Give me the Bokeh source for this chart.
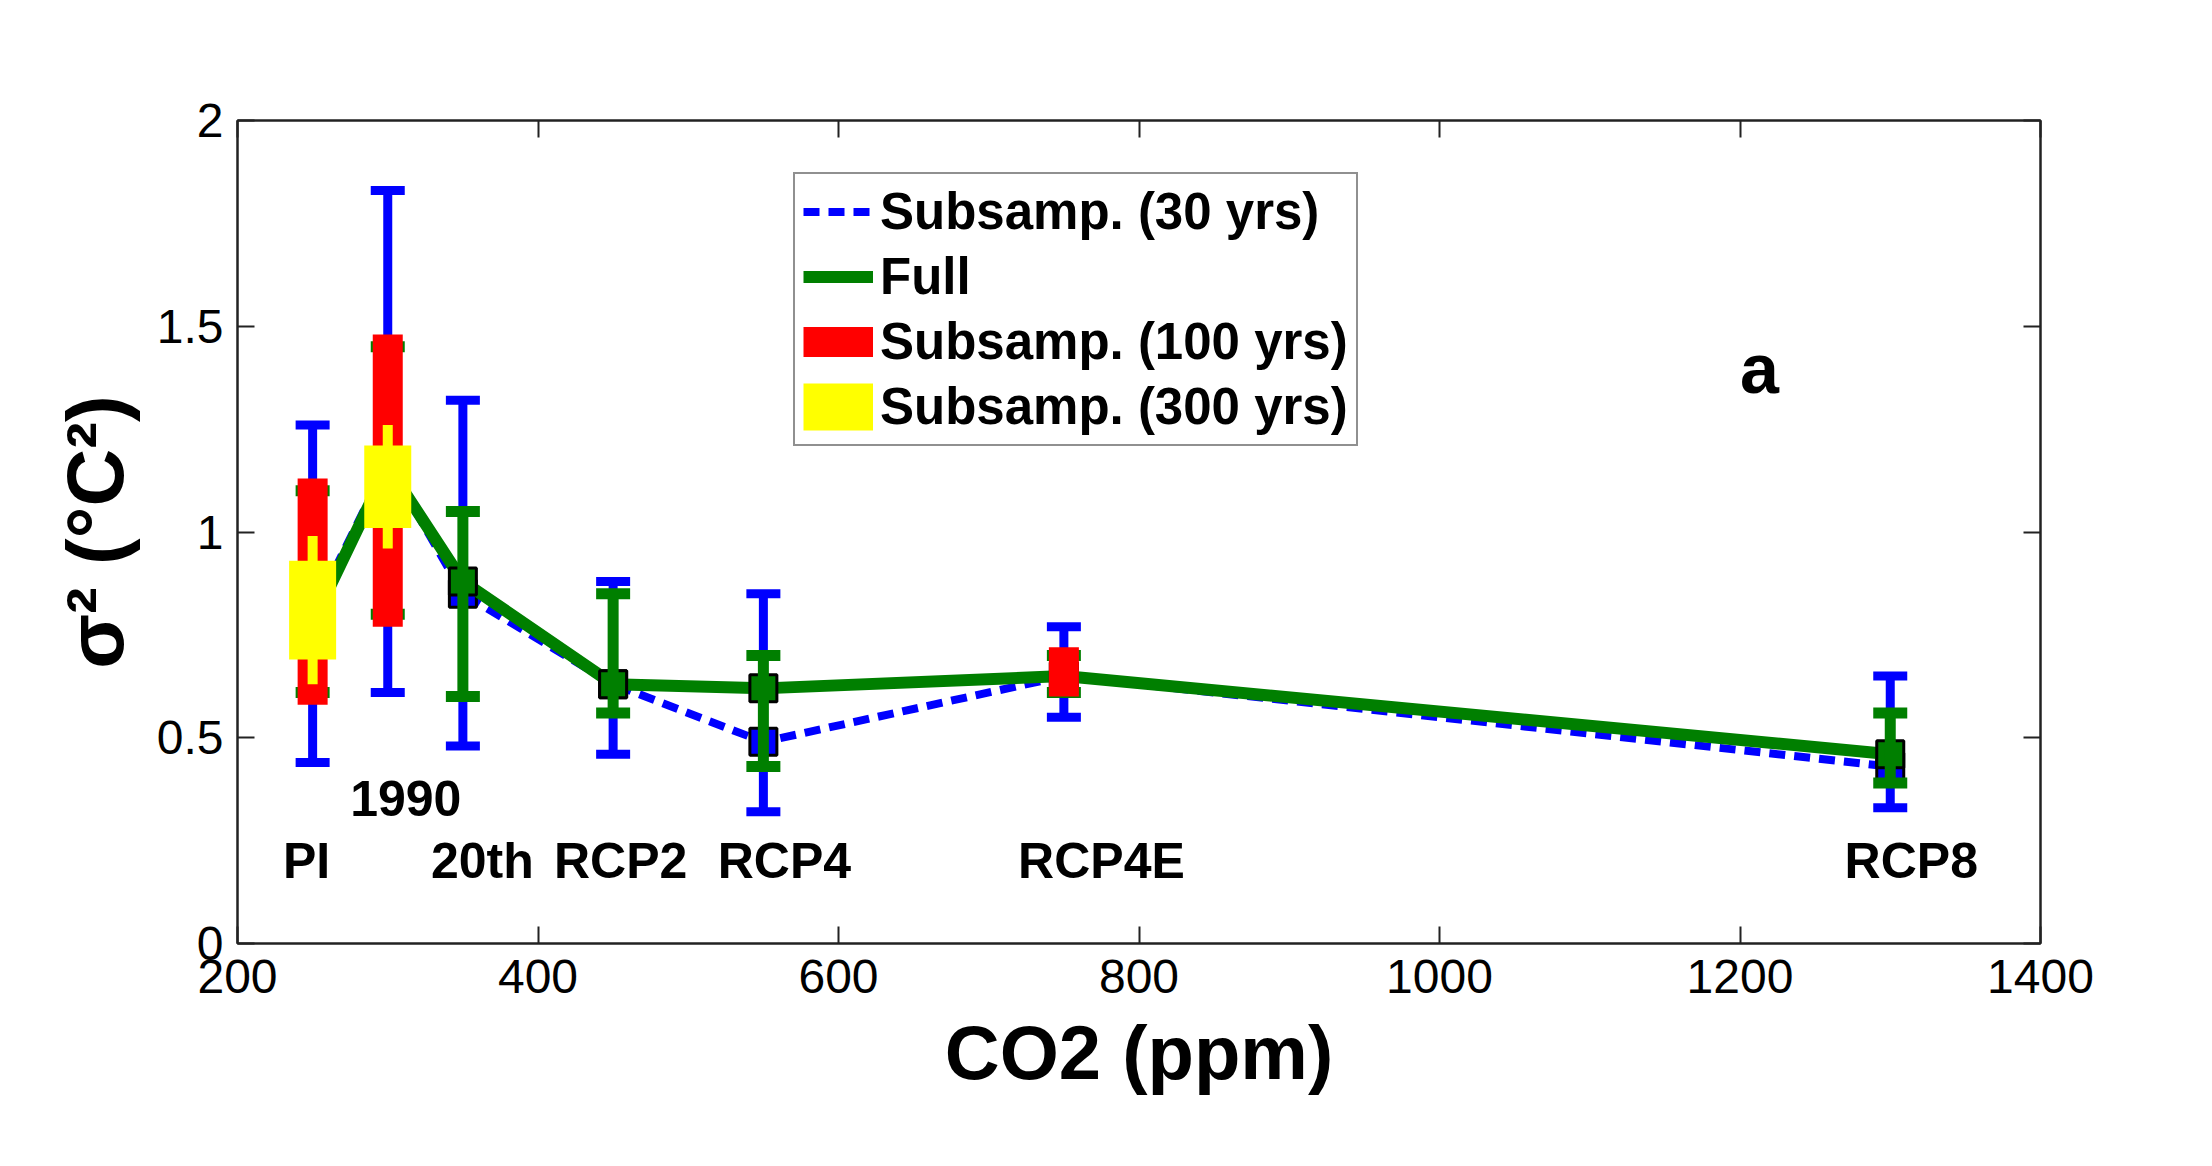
from bokeh.plotting import figure
from bokeh.models import (LinearAxis, FixedTicker, Legend, LegendItem, Range1d, Label)
from bokeh.embed import file_html
from bokeh.resources import INLINE
from bokeh.core.properties import value

# ---------------- data ----------------
co2 = [250, 300, 350, 450, 550, 750, 1300]
scenarios = ["PI", "1990", "20th", "RCP2", "RCP4", "RCP4E", "RCP8"]

# Subsampled, 30 yrs (blue dashed)
sub30_mean = [0.80, 1.17, 0.85, 0.63, 0.49, 0.65, 0.43]
sub30_lo = [0.44, 0.61, 0.48, 0.46, 0.32, 0.55, 0.33]
sub30_hi = [1.26, 1.83, 1.32, 0.88, 0.85, 0.77, 0.65]

# Full (green)
full_mean = [0.78, 1.16, 0.88, 0.63, 0.62, 0.65, 0.46]
full_lo = [0.61, 0.80, 0.60, 0.56, 0.43, 0.61, 0.39]
full_hi = [1.10, 1.45, 1.05, 0.85, 0.70, 0.70, 0.56]

# Subsampled, 100 yrs (red)
sub100_co2 = [250, 300, 750]
sub100_lo = [0.58, 0.77, 0.60]
sub100_hi = [1.13, 1.48, 0.72]

# Subsampled, 300 yrs (yellow)
sub300_co2 = [250, 300]
sub300_lo = [0.63, 0.96]
sub300_hi = [0.99, 1.26]
sub300_inner_lo = [0.69, 1.01]
sub300_inner_hi = [0.93, 1.21]

x_ticks = [200, 400, 600, 800, 1000, 1200, 1400]
y_ticks = [0, 0.5, 1, 1.5, 2]
y_tick_labels = ["0", "0.5", "1", "1.5", "2"]

# scenario annotation placement
label_x = [246, 312, 363, 455, 564, 775, 1314]
label_y = [0.20, 0.352, 0.20, 0.20, 0.20, 0.20, 0.20]

# ---------------- styles ----------------
FONT = "Liberation Sans"
BLUE = "#0000ff"
GREEN = "#007f00"
RED = "#ff0000"
YELLOW = "#ffff00"

p = figure(frame_width=1803, frame_height=823,
           x_range=Range1d(200, 1400), y_range=Range1d(0, 2),
           output_backend="svg", toolbar_location=None,
           min_border_left=237, min_border_right=164,
           min_border_top=120, min_border_bottom=215,
           background_fill_color="white", border_fill_color="white")
p.grid.visible = False
p.outline_line_color = "#222222"
p.outline_line_width = 2

def style_axis(ax, ticks, show_labels=True):
    ax.ticker = FixedTicker(ticks=ticks)
    ax.major_tick_in = 17
    ax.major_tick_out = 0
    ax.minor_tick_line_color = None
    ax.axis_line_width = 2
    ax.axis_line_color = "#222222"
    ax.major_tick_line_width = 2
    ax.major_tick_line_color = "#222222"
    ax.major_label_text_font = FONT
    ax.major_label_text_font_size = "48px"
    if show_labels:
        ax.major_label_text_color = "black"
    else:
        ax.major_label_text_color = None
        ax.major_label_standoff = 0

xa = p.xaxis[0]
style_axis(xa, x_ticks)
xa.major_label_standoff = 16
xa.axis_label = "CO2 (ppm)"
xa.axis_label_text_font = FONT
xa.axis_label_text_font_style = "bold"
xa.axis_label_text_font_size = "76px"
xa.axis_label_standoff = 14
xa.axis_label_text_color = "black"

ya = p.yaxis[0]
style_axis(ya, y_ticks)
ya.major_label_overrides = {t: s for t, s in zip(y_ticks, y_tick_labels)}
ya.major_label_standoff = 14
ya.axis_label = "σ² (°C²)"
ya.axis_label_text_font = FONT
ya.axis_label_text_font_style = "bold"
ya.axis_label_text_font_size = "80px"
ya.axis_label_standoff = 14
ya.axis_label_text_color = "black"

top_ax = LinearAxis()
style_axis(top_ax, x_ticks, show_labels=False)
p.add_layout(top_ax, "above")
right_ax = LinearAxis()
style_axis(right_ax, y_ticks, show_labels=False)
p.add_layout(right_ax, "right")

# ---------------- 30 yrs (blue) ----------------
blue_line = p.line(co2, sub30_mean, line_color=BLUE, line_width=8, line_dash="16 9")
p.scatter(co2, sub30_mean, marker="square", size=27, fill_color=BLUE,
          line_color="black", line_width=3)
p.segment(co2, sub30_lo, co2, sub30_hi, line_color=BLUE, line_width=9)
p.scatter(co2, sub30_lo, marker="dash", size=34, line_color=BLUE, line_width=9)
p.scatter(co2, sub30_hi, marker="dash", size=34, line_color=BLUE, line_width=9)

# ---------------- full (green) ----------------
green_line = p.line(co2, full_mean, line_color=GREEN, line_width=12)
p.scatter(co2, full_mean, marker="square", size=27, fill_color=GREEN,
          line_color="black", line_width=3)
p.segment(co2, full_lo, co2, full_hi, line_color=GREEN, line_width=11)
p.scatter(co2, full_lo, marker="dash", size=34, line_color=GREEN, line_width=11)
p.scatter(co2, full_hi, marker="dash", size=34, line_color=GREEN, line_width=11)

# ---------------- 100 yrs (red) ----------------
red_bar = p.segment(sub100_co2, sub100_lo, sub100_co2, sub100_hi,
                    line_color=RED, line_width=30)

# ---------------- 300 yrs (yellow) ----------------
p.segment(sub300_co2, sub300_lo, sub300_co2, sub300_hi, line_color=YELLOW, line_width=10)
yellow_bar = p.segment(sub300_co2, sub300_inner_lo, sub300_co2, sub300_inner_hi,
                       line_color=YELLOW, line_width=47)

# ---------------- annotations ----------------
p.text(x=label_x, y=label_y, text=scenarios, text_font=value(FONT),
       text_font_style="bold", text_font_size="50px", text_color="black",
       text_align="center", text_baseline="alphabetic")

p.add_layout(Label(x=1213, y=1.395, text="a", text_font=FONT, text_font_style="bold",
                   text_font_size="70px", text_color="black",
                   text_align="center", text_baseline="alphabetic"))

legend = Legend(items=[
    LegendItem(label="Subsamp. (30 yrs)", renderers=[blue_line]),
    LegendItem(label="Full", renderers=[green_line]),
    LegendItem(label="Subsamp. (100 yrs)", renderers=[red_bar]),
    LegendItem(label="Subsamp. (300 yrs)", renderers=[yellow_bar]),
], location=(556, 497))
legend.margin = 0
legend.padding = 8
legend.spacing = 6
legend.glyph_width = 70
legend.glyph_height = 57
legend.label_height = 57
legend.label_standoff = 7
legend.label_text_font = FONT
legend.label_text_font_style = "bold"
legend.label_text_font_size = "51px"
legend.label_text_color = "black"
legend.border_line_color = "#222222"
legend.border_line_width = 2
legend.background_fill_color = "white"
legend.background_fill_alpha = 1.0
p.add_layout(legend)

open("out.html", "w").write(file_html(p, INLINE))
